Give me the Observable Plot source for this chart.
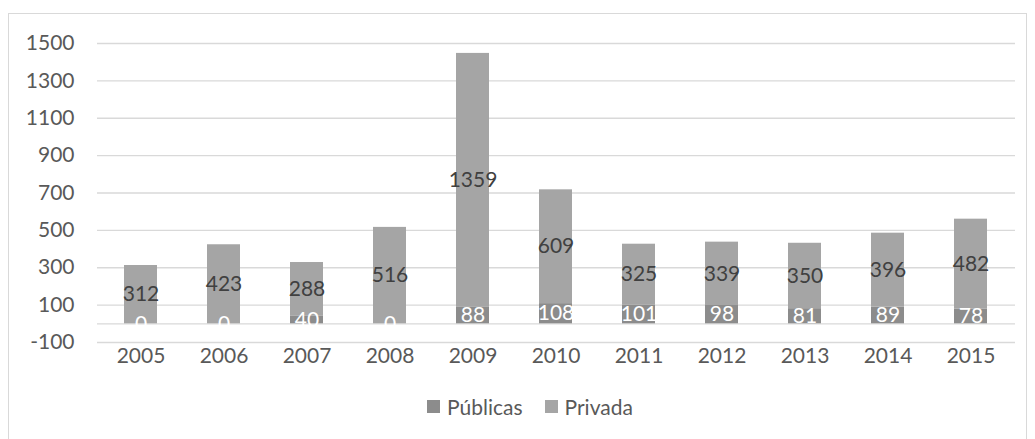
<!DOCTYPE html>
<html><head><meta charset="utf-8">
<script src="https://cdn.jsdelivr.net/npm/d3@7"></script>
<script src="https://cdn.jsdelivr.net/npm/@observablehq/plot@0.6"></script>
<style>
body{margin:0;background:#fff;font-family:Lato,"Open Sans",sans-serif;width:1035px;height:439px;overflow:hidden;position:relative;}
#frame{position:absolute;left:8px;top:13px;width:1019px;height:440px;border:1px solid #d9d9d9;box-sizing:border-box;}
#chart{position:absolute;left:0;top:0;}
#legend{position:absolute;left:427px;top:394px;display:flex;align-items:center;font-size:21px;color:#595959;white-space:nowrap;}
#legend .item{display:flex;align-items:center;margin-right:22px;}
#legend .sw{width:13px;height:13px;margin-right:7px;}
</style></head>
<body>
<div id="frame"></div>
<div id="chart"></div>
<div id="legend"></div>
<script>
const years = ["2005","2006","2007","2008","2009","2010","2011","2012","2013","2014","2015"];
const publicas = [0,0,40,0,88,108,101,98,81,89,78];
const privada = [312,423,288,516,1359,609,325,339,350,396,482];
const seriesNames = ["Públicas","Privada"];
const seriesColors = ["#8c8c8c","#a5a5a5"];
const yTicks = [-100,100,300,500,700,900,1100,1300,1500];

const rows = [];
years.forEach((yr,i)=>{
  rows.push({year:yr, series:"Públicas", value:publicas[i], mid:publicas[i]/2});
  rows.push({year:yr, series:"Privada", value:privada[i], mid:publicas[i]+privada[i]/2});
});

const chart = Plot.plot({
  width:1035, height:380,
  marginLeft:97, marginRight:20, marginTop:43, marginBottom:38,
  style:{fontFamily:"Lato, 'Open Sans', sans-serif", fontSize:"21px", color:"#595959", background:"transparent"},
  x:{domain:years, paddingInner:0.6, paddingOuter:0.3, label:null, tickSize:0, tickPadding:6},
  y:{domain:[-100,1500], ticks:yTicks, label:null, tickSize:0, tickPadding:23, tickFormat:d=>String(d)},
  color:{domain:seriesNames, range:seriesColors},
  marks:[
    Plot.ruleY(yTicks,{stroke:"#d9d9d9", strokeWidth:1.3}),
    Plot.ruleY([0],{stroke:"#d9d9d9", strokeWidth:1.3}),
    Plot.barY(rows, Plot.stackY({x:"year", y:"value", fill:"series", order:seriesNames})),
    Plot.text(rows.filter(d=>d.series==="Privada"),{x:"year", y:"mid", text:d=>String(d.value), fill:"#404040", fontSize:21}),
    Plot.text(rows.filter(d=>d.series==="Públicas"),{x:"year", y:"mid", text:d=>String(d.value), fill:"#ffffff", fontSize:21})
  ]
});
document.getElementById("chart").appendChild(chart);

const lg = document.getElementById("legend");
seriesNames.forEach((n,i)=>{
  const it = document.createElement("div"); it.className="item";
  const sw = document.createElement("div"); sw.className="sw"; sw.style.background=seriesColors[i];
  const tx = document.createElement("span"); tx.textContent=n;
  it.appendChild(sw); it.appendChild(tx); lg.appendChild(it);
});
</script>
</body></html>
